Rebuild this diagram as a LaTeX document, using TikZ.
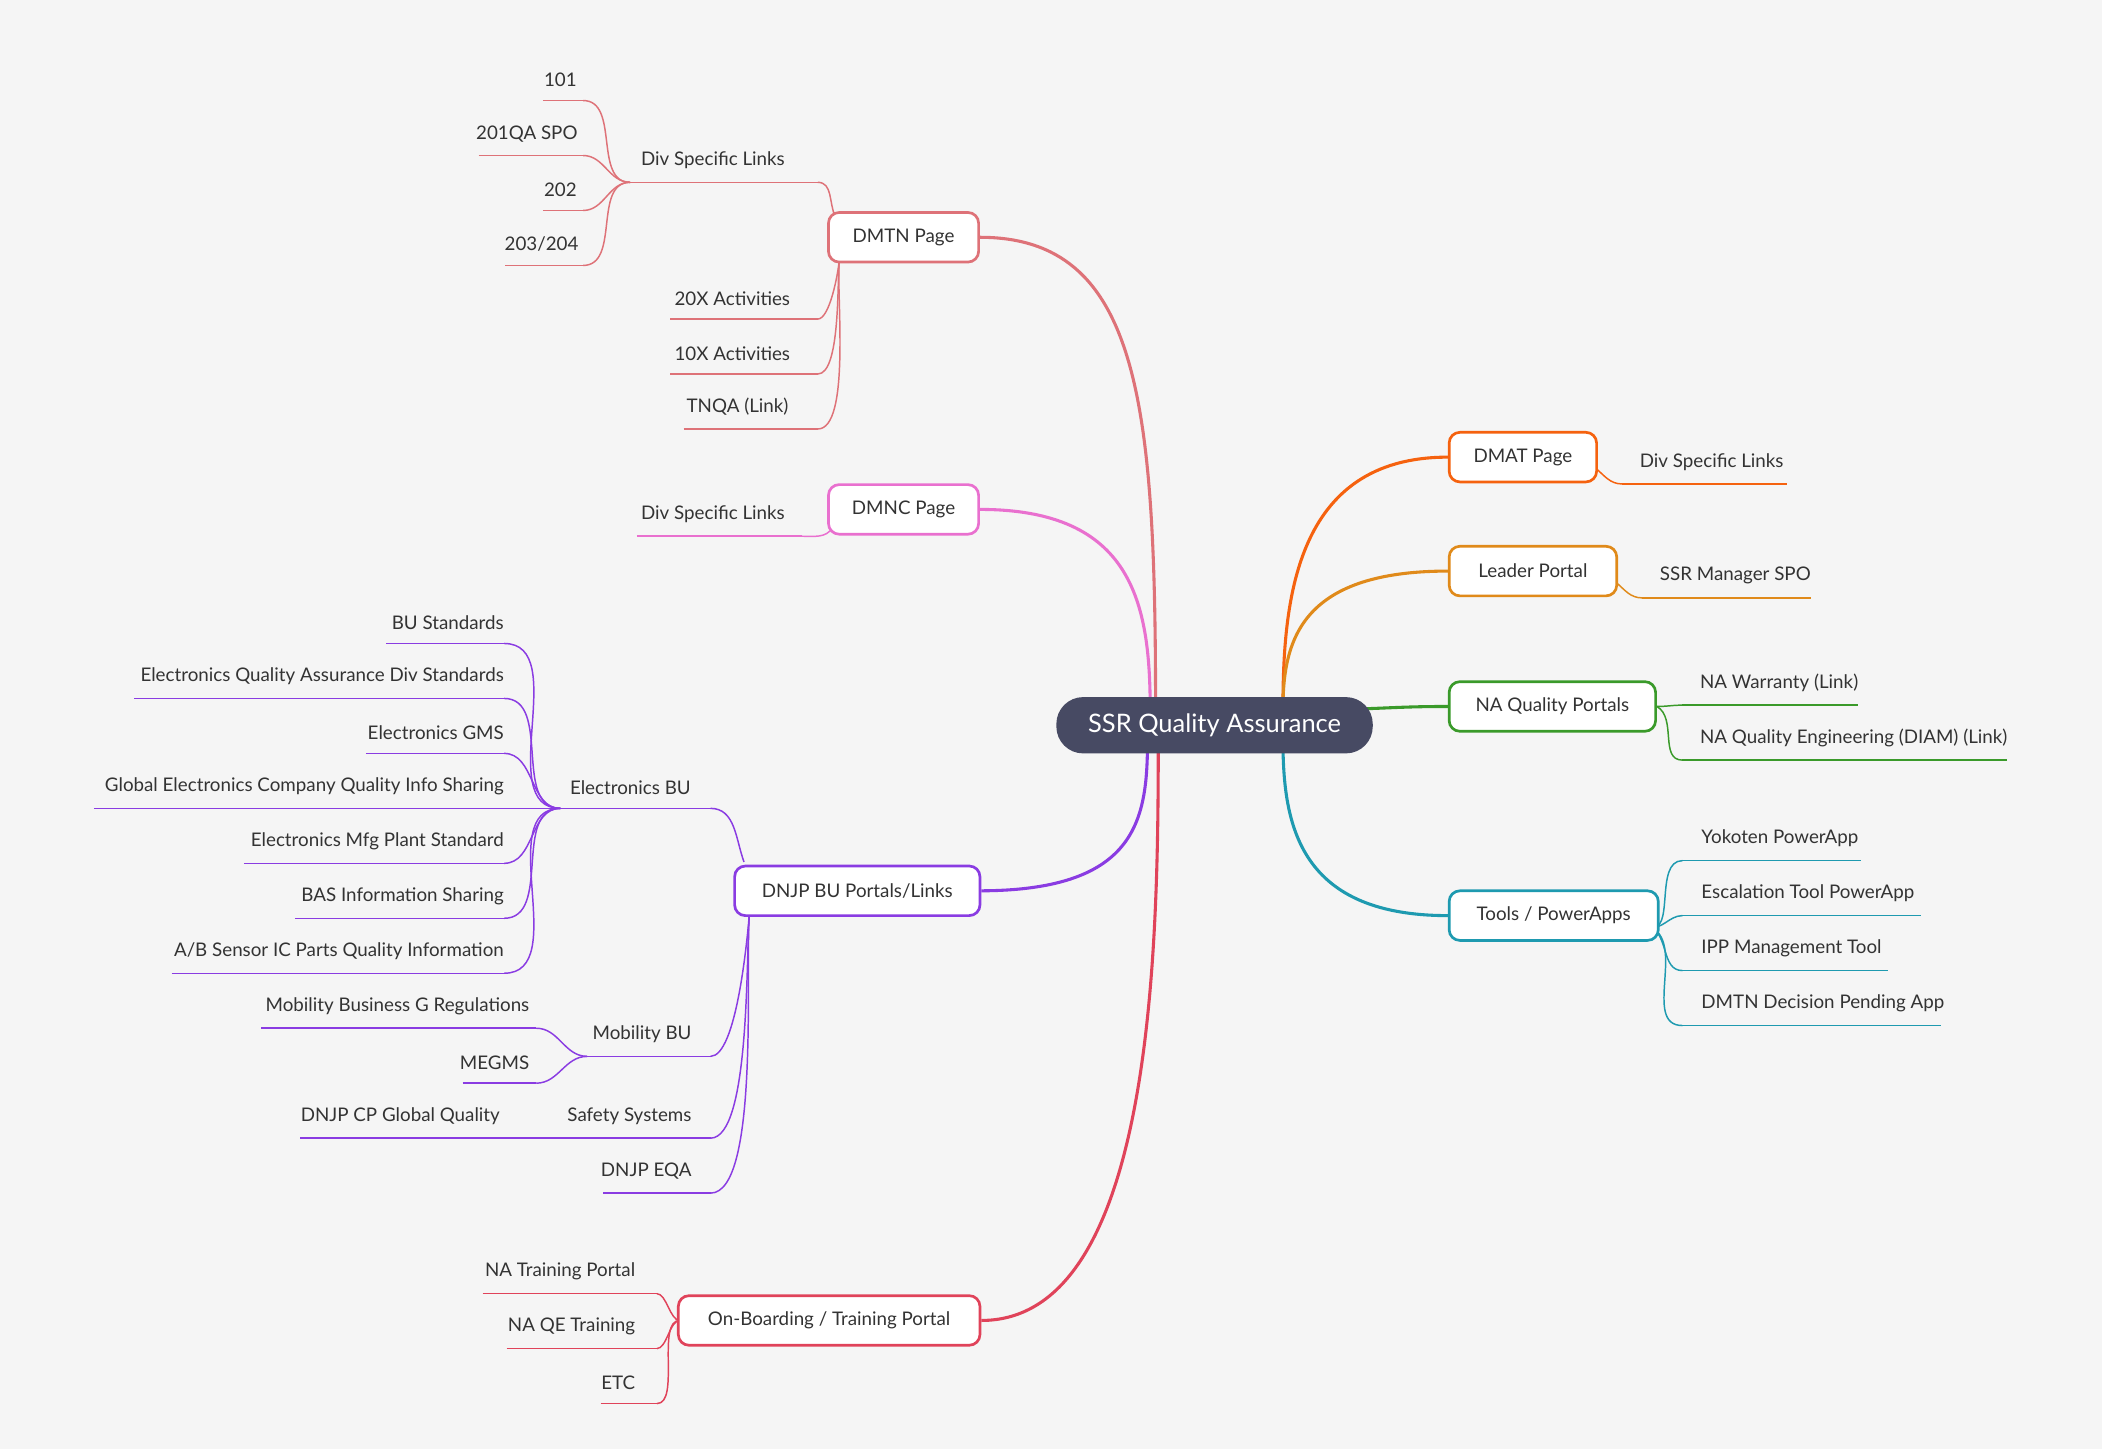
\documentclass[tikz,border=0pt]{standalone}
\usepackage{fontspec}
\setmainfont{Lato}
\usetikzlibrary{backgrounds,calc}
\definecolor{bg}{HTML}{F5F5F5}
\definecolor{txt}{HTML}{333333}
\definecolor{cdmtn}{HTML}{DE7278}
\definecolor{cdmnc}{HTML}{E970CF}
\definecolor{cdnjp}{HTML}{8A3CE2}
\definecolor{conb}{HTML}{E0435A}
\definecolor{cdmat}{HTML}{F5620F}
\definecolor{clead}{HTML}{E08A1A}
\definecolor{cnaq}{HTML}{3A9A2A}
\definecolor{ctool}{HTML}{1E9AB0}
\definecolor{ccen}{HTML}{474A63}
\tikzset{
 x=1pt,y=-1pt,
 box/.style={draw=#1,line width=2pt,rounded corners=8pt,fill=white,text=txt,font=\fontsize{14}{16}\selectfont,inner sep=0pt},
 lf/.style={text=txt,font=\fontsize{14}{16}\selectfont,inner sep=0pt,yshift=10pt},
 br/.style={draw=#1,line width=2.3pt},
 tw/.style={draw=#1,line width=1.1pt},
}
% \leafx{name}{xl}{xr}{y}{anchor}{textx}{text}{color}
\newcommand{\leafx}[8]{%
 \coordinate (#1-l) at (#2,#4);
 \coordinate (#1-r) at (#3,#4);
 \draw[tw=#8] (#1-l) -- (#1-r);
 \node[lf,anchor=#5] (#1) at (#6,#4) {#7};}
\begin{document}
\begin{tikzpicture}
\useasboundingbox (0,0) rectangle (1568,1081);
% main nodes
\node[fill=ccen,rounded corners=20pt,minimum width=236pt,minimum height=42pt,text=white,font=\fontsize{19}{22}\selectfont] (c) at (906,541) {SSR Quality Assurance};
\node[box=cdmtn,minimum width=112pt,minimum height=37pt] (dmtn) at (674,177) {DMTN Page};
\node[box=cdmnc,minimum width=112pt,minimum height=37pt] (dmnc) at (674,380) {DMNC Page};
\node[box=cdnjp,minimum width=183pt,minimum height=37pt] (dnjp) at (639.5,664.5) {DNJP BU Portals/Links};
\node[box=conb,minimum width=225pt,minimum height=37pt] (onb) at (618.5,985) {On-Boarding / Training Portal};
\node[box=cdmat,minimum width=110pt,minimum height=37pt] (dmat) at (1136,341) {DMAT Page};
\node[box=clead,minimum width=125pt,minimum height=37pt] (lead) at (1143.5,426) {Leader Portal};
\node[box=cnaq,minimum width=154pt,minimum height=37pt] (naq) at (1158,527) {NA Quality Portals};
\node[box=ctool,minimum width=156pt,minimum height=37pt] (tool) at (1159,683) {Tools / PowerApps};
% leaves
\leafx{ds1}{470}{610}{136}{south west}{478}{Div Specific Links}{cdmtn}
\leafx{a101}{405}{435}{75}{south}{418}{101}{cdmtn}
\leafx{a201}{357}{435}{116}{south}{393}{201QA SPO}{cdmtn}
\leafx{a202}{405}{435}{157}{south}{418}{202}{cdmtn}
\leafx{a203}{377}{435}{198}{south}{404}{203/204}{cdmtn}
\leafx{a20x}{500}{610}{238}{south west}{503}{20X Activities}{cdmtn}
\leafx{a10x}{500}{610}{279}{south west}{503}{10X Activities}{cdmtn}
\leafx{tnqa}{510}{610}{320}{south west}{512}{TNQA (Link)}{cdmtn}
\leafx{ds2}{475}{598}{400}{south west}{478}{Div Specific Links}{cdmnc}
\leafx{ebu}{418}{530}{603}{south west}{425}{Electronics BU}{cdnjp}
\leafx{e1}{288}{376}{480}{south east}{376}{BU Standards}{cdnjp}
\leafx{e2}{100}{376}{521}{south east}{376}{Electronics Quality Assurance Div Standards}{cdnjp}
\leafx{e3}{273}{376}{562}{south east}{376}{Electronics GMS}{cdnjp}
\leafx{e4}{70}{376}{603}{south east}{376}{Global Electronics Company Quality Info Sharing}{cdnjp}
\leafx{e5}{182}{376}{644}{south east}{376}{Electronics Mfg Plant Standard}{cdnjp}
\leafx{e6}{220}{376}{685}{south east}{376}{BAS Information Sharing}{cdnjp}
\leafx{e7}{128}{376}{726}{south east}{376}{A/B Sensor IC Parts Quality Information}{cdnjp}
\leafx{mbu}{438}{530}{788}{south east}{516}{Mobility BU}{cdnjp}
\leafx{m1}{195}{400}{767}{south east}{395}{Mobility Business G Regulations}{cdnjp}
\leafx{m2}{345}{400}{808}{south east}{395}{MEGMS}{cdnjp}
\leafx{ss}{400}{530}{849}{south east}{516}{Safety Systems}{cdnjp}
\leafx{s1}{224}{400}{849}{south east}{373}{DNJP CP Global Quality}{cdnjp}
\leafx{eqa}{450}{530}{890}{south east}{516}{DNJP EQA}{cdnjp}
\leafx{o1}{360}{490}{965}{south east}{474}{NA Training Portal}{conb}
\leafx{o2}{378}{490}{1006}{south east}{474}{NA QE Training}{conb}
\leafx{o3}{448}{490}{1047}{south east}{474}{ETC}{conb}
\leafx{ds3}{1210}{1333}{361}{south west}{1223}{Div Specific Links}{cdmat}
\leafx{ssr}{1225}{1351}{446}{south west}{1238}{SSR Manager SPO}{clead}
\leafx{n1}{1255}{1386}{526}{south west}{1268}{NA Warranty (Link)}{cnaq}
\leafx{n2}{1255}{1497}{567}{south west}{1268}{NA Quality Engineering (DIAM) (Link)}{cnaq}
\leafx{t1}{1255}{1388}{642}{south west}{1269}{Yokoten PowerApp}{ctool}
\leafx{t2}{1255}{1433}{683}{south west}{1269}{Escalation Tool PowerApp}{ctool}
\leafx{t3}{1255}{1408}{724}{south west}{1269}{IPP Management Tool}{ctool}
\leafx{t4}{1255}{1448}{765}{south west}{1269}{DMTN Decision Pending App}{ctool}
\begin{scope}[on background layer]
\fill[bg] (0,0) rectangle (1568,1081);
% main branches
\draw[br=cdmtn] (dmtn.east) .. controls (850,177) and (862,300) .. (862,530);
\draw[br=cdmnc] (dmnc.east) .. controls (845,380) and (858,450) .. (858,530);
\draw[br=cdnjp] (dnjp.east) .. controls (850,664) and (856,610) .. (856,550);
\draw[br=conb] (onb.east) .. controls (862,985) and (864,700) .. (864,550);
\draw[br=cdmat] (dmat.west) .. controls (965,341) and (957,450) .. (957,530);
\draw[br=clead] (lead.west) .. controls (968,426) and (957,480) .. (957,530);
\draw[br=cnaq] (naq.west) .. controls (1050,527) and (1040,528) .. (1010,529);
\draw[br=ctool] (tool.west) .. controls (965,683) and (957,610) .. (957,550);
% twigs
\coordinate (dmT) at ($(dmtn.north west)+(6,4)$);
\coordinate (dmB) at ($(dmtn.south west)+(9,-2)$);
\draw[tw=cdmtn] (ds1-r) to[out=0,in=115] (dmT);
\foreach \n in {a101,a201,a202,a203} \draw[tw=cdmtn] (\n-r) to[out=0,in=180] (ds1-l);
\foreach \n in {a20x,a10x,tnqa} \draw[tw=cdmtn] (\n-r) to[out=0,in=-95,looseness=0.5] (dmB);
\draw[tw=cdmnc] (ds2-r) to[out=0,in=-120] ($(dmnc.south west)+(4,-6)$);
\coordinate (dnT) at ($(dnjp.north west)+(8,-2)$);
\coordinate (dnB) at ($(dnjp.south west)+(12,-2)$);
\draw[tw=cdnjp] (ebu-r) to[out=0,in=110] (dnT);
\foreach \n in {e1,e2,e3,e4,e5,e6,e7} \draw[tw=cdnjp] (\n-r) to[out=0,in=180] (ebu-l);
\foreach \n in {mbu,ss,eqa} \draw[tw=cdnjp] (\n-r) to[out=0,in=-95,looseness=0.45] (dnB);
\foreach \n in {m1,m2} \draw[tw=cdnjp] (\n-r) to[out=0,in=180] (mbu-l);
\foreach \n in {o1,o2,o3} \draw[tw=conb] (\n-r) to[out=0,in=180,looseness=0.7] ($(onb.west)+(2,0)$);
\draw[tw=cdmat] ($(dmat.east)+(-2,8)$) to[out=-40,in=180] (ds3-l);
\draw[tw=clead] ($(lead.east)+(-2,8)$) to[out=-40,in=180] (ssr-l);
\draw[tw=cnaq] (naq.east) to[out=0,in=180] (n1-l);
\draw[tw=cnaq] (naq.east) to[out=-30,in=180] (n2-l);
\foreach \n in {t1,t2,t3,t4} \draw[tw=ctool] ($(tool.east)+(-8,8)$) to[out=-20,in=180] (\n-l);
\end{scope}
\end{tikzpicture}
\end{document}
